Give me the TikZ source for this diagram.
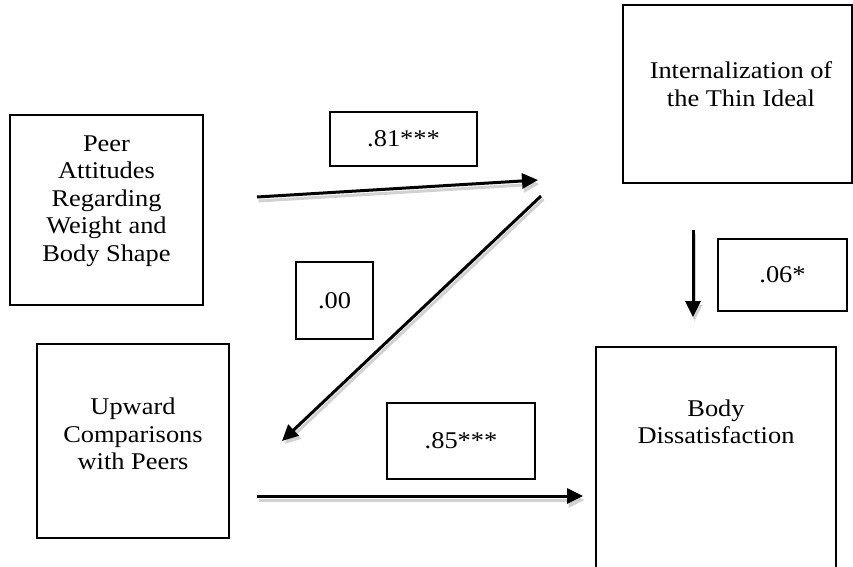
\documentclass[tikz,border=0pt]{standalone}
\usepackage{fontspec}
\setmainfont{Liberation Serif}[FakeStretch=1.1]
\usetikzlibrary{arrows.meta}
\tikzset{
  box/.style={draw=black, line width=2pt, rectangle, inner sep=0pt},
  txt/.style={align=center, inner sep=0pt, font=\fontsize{24}{27.5}\selectfont},
  arrowline/.style={draw=black, line width=3pt, -{Triangle[length=16pt,width=15pt]}},
  shadowline/.style={draw=black!18, line width=3pt, -{Triangle[length=16pt,width=15pt]}},
}
\begin{document}
\begin{tikzpicture}[x=1pt,y=-1pt]
\useasboundingbox (0,0) rectangle (853,566);
\clip (0,0) rectangle (853,566);
% main boxes
\node[box, minimum width=193pt, minimum height=190pt] (peer) at (106.5,210) {};
\node[txt] (peertxt) at (106.5,201) {Peer\\Attitudes\\Regarding\\Weight and\\Body Shape};
\node[box, minimum width=229pt, minimum height=178pt] (thin) at (737.5,94) {};
\node[txt] (thintxt) at (741,84) {Internalization of\\the Thin Ideal};
\node[box, minimum width=192pt, minimum height=194pt] (upward) at (133,441) {};
\node[txt] (upwardtxt) at (133,434) {Upward\\Comparisons\\with Peers};
\node[box, minimum width=240pt, minimum height=240pt] (body) at (716,467) {};
\node[txt] (bodytxt) at (716,422) {Body\\Dissatisfaction};
% coefficient boxes
\node[box, txt, minimum width=147pt, minimum height=54pt] (c81) at (403.5,139) {.81***};
\node[box, txt, minimum width=77pt, minimum height=77pt] (c00) at (334.5,300.5) {.00};
\node[box, txt, minimum width=148pt, minimum height=76pt] (c85) at (461,441) {.85***};
\node[box, txt, minimum width=129pt, minimum height=72pt] (c06) at (782.5,275) {.06*};
% arrow end points
\coordinate (a1s) at (257,197);
\coordinate (a1e) at (538,180);
\coordinate (a2s) at (541,196);
\coordinate (a2e) at (282,441);
\coordinate (a3s) at (257,496);
\coordinate (a3e) at (583,496);
\coordinate (a4s) at (693,230);
\coordinate (a4e) at (693,317);
% shadows
\draw[shadowline] ([shift={(1.5,4)}]a1s) -- ([shift={(1.5,4)}]a1e);
\draw[shadowline] ([shift={(2.5,3)}]a2s) -- ([shift={(2.5,3)}]a2e);
\draw[shadowline] ([shift={(1.5,4)}]a3s) -- ([shift={(1.5,4)}]a3e);
\draw[shadowline] ([shift={(1.5,4)}]a4s) -- ([shift={(1.5,4)}]a4e);
% arrows
\draw[arrowline] (a1s) -- (a1e);
\draw[arrowline] (a2s) -- (a2e);
\draw[arrowline] (a3s) -- (a3e);
\draw[arrowline] (a4s) -- (a4e);
\end{tikzpicture}
\end{document}
